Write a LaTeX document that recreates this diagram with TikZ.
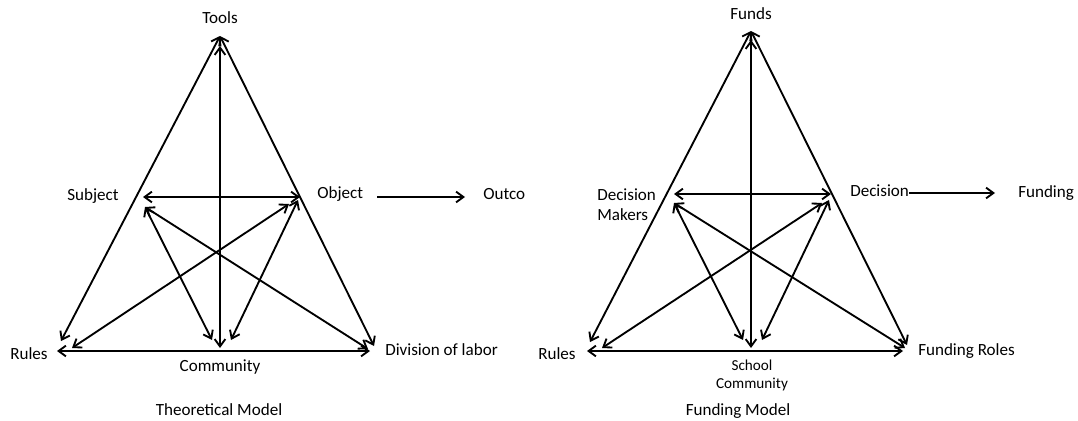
\documentclass[tikz,border=0pt]{standalone}
\usepackage{fontspec}
\setmainfont{Carlito}
\usetikzlibrary{arrows.meta}
\begin{document}
\begin{tikzpicture}[x=0.75pt,y=-0.75pt,
  lbl/.style={inner sep=0pt, font=\fontsize{12.8}{15}\selectfont, text height=0.68em, text depth=0.2em},
  small/.style={inner sep=0pt, font=\fontsize{11.4}{13.5}\selectfont, align=center},
  conn/.style={line width=1.4pt, {Straight Barb[length=5.5pt,width=8pt]}-{Straight Barb[length=5.5pt,width=8pt]}},
  oneway/.style={line width=1.4pt, -{Straight Barb[length=5.5pt,width=8pt]}}]
\useasboundingbox (0,0) rectangle (1078,421);

% ---------- Theoretical model ----------
\node[lbl] (tools) at (220,20) {Tools};
\node[lbl] (subject) at (93,197) {Subject};
\node[lbl, anchor=west] (object) at (317,195) {Object};
\node[lbl, anchor=west] (outco) at (483,196) {Outco};
\node[lbl] (rules) at (29,356) {Rules};
\node[lbl] (community) at (220,368) {Community};
\node[lbl, anchor=west] (division) at (385,352) {Division of labor};
\node[lbl] (theo) at (219,412) {Theoretical Model};

\coordinate (lT) at (220,36);
\coordinate (lTv) at (220,46);
\coordinate (lRs) at (61,341);
\coordinate (lDs) at (374,346);
\coordinate (lCv) at (220,348);
\coordinate (lRb) at (57,351);
\coordinate (lDb) at (370,351);
\coordinate (lS1) at (143,197);
\coordinate (lO1) at (300,197);
\coordinate (lOo) at (377,197);
\coordinate (lOe) at (465,197);
\coordinate (lS2) at (145,207);
\coordinate (lCl) at (212,340);
\coordinate (lDd) at (368,349);
\coordinate (lO2) at (289,204);
\coordinate (lO3) at (298,200);
\coordinate (lRi) at (72,348);
\coordinate (lCr) at (231,340);

\draw[conn] (lT) -- (lRs);
\draw[conn] (lT) -- (lDs);
\draw[conn] (lTv) -- (lCv);
\draw[conn] (lRb) -- (lDb);
\draw[conn] (lS1) -- (lO1);
\draw[oneway] (lOo) -- (lOe);
\draw[conn] (lS2) -- (lCl);
\draw[conn] (lS2) -- (lDd);
\draw[conn] (lO2) -- (lRi);
\draw[conn] (lO3) -- (lCr);

% ---------- Funding model ----------
\node[lbl] (funds) at (751,16) {Funds};
\node[lbl, anchor=west, align=left, text height=, text depth=, font=\fontsize{12.8}{15}\selectfont] (dm) at (597,205) {Decision\\Makers};
\node[lbl, anchor=west] (decision) at (850,193) {Decision};
\node[lbl, anchor=west] (funding) at (1018,194) {Funding};
\node[lbl] (rules2) at (557,356) {Rules};
\node[small] (school) at (752,375) {School\\Community};
\node[lbl, anchor=west] (froles) at (918,352) {Funding Roles};
\node[lbl] (fmodel) at (738,412) {Funding Model};

\coordinate (rT) at (751,31);
\coordinate (rTv) at (751,40);
\coordinate (rRs) at (590,342);
\coordinate (rDs) at (907,345);
\coordinate (rCv) at (751,348);
\coordinate (rRb) at (587,351);
\coordinate (rDb) at (903,351);
\coordinate (rS1) at (674,194);
\coordinate (rO1) at (831,194);
\coordinate (rOe) at (995,193);
\coordinate (rS2) at (674,203);
\coordinate (rCl) at (743,340);
\coordinate (rDd) at (905,348);
\coordinate (rO2) at (822,203);
\coordinate (rO3) at (829,200);
\coordinate (rRi) at (602,348);
\coordinate (rCr) at (762,340);

\draw[conn] (rT) -- (rRs);
\draw[conn] (rT) -- (rDs);
\draw[conn] (rTv) -- (rCv);
\draw[conn] (rRb) -- (rDb);
\draw[conn] (rS1) -- (rO1);
\draw[oneway] (decision.east) -- (rOe);
\draw[conn] (rS2) -- (rCl);
\draw[conn] (rS2) -- (rDd);
\draw[conn] (rO2) -- (rRi);
\draw[conn] (rO3) -- (rCr);
\end{tikzpicture}
\end{document}
